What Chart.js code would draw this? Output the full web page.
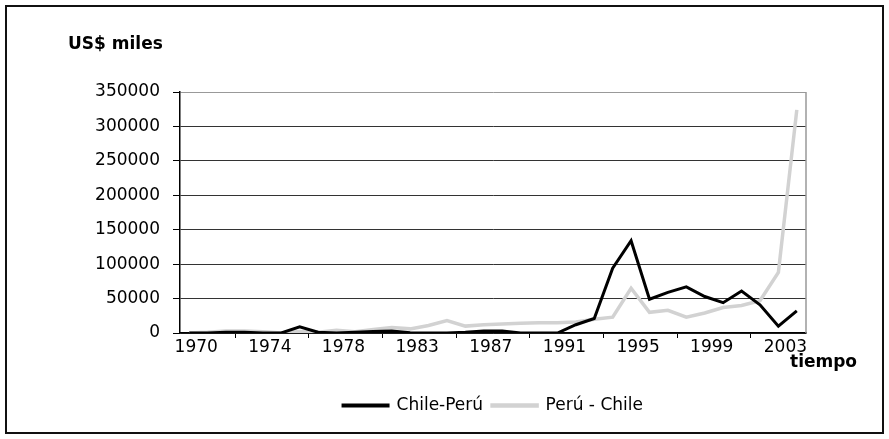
<!DOCTYPE html>
<html>
<head>
<meta charset="utf-8">
<script src="https://cdn.jsdelivr.net/npm/chart.js@4"></script>
<style>
  body { margin: 0; background: #fff; }
  #wrap { position: relative; width: 889px; height: 439px; }
  #myChart { position: absolute; left: 0; top: 0; }
  #frame { position: absolute; left: 5px; top: 5px; width: 875px; height: 425px; border: 2px solid #111; pointer-events: none; }
  .lbl { position: absolute; font-family: "DejaVu Sans"; font-weight: bold; font-size: 17px; color: #000; white-space: nowrap; }
</style>
</head>
<body>
<div id="wrap">
  <canvas id="myChart" width="889" height="439"></canvas>
  <div id="frame"></div>
  <div class="lbl" style="left:68px;top:33px">US$ miles</div>
  <div class="lbl" style="left:790px;top:351px">tiempo</div>
</div>
<script>
// categories as they appear on the axis (1982 is not in the series)
const years = [1970, 1971, 1972, 1973, 1974, 1975, 1976, 1977, 1978, 1979, 1980, 1981,
               1983, 1984, 1985, 1986, 1987, 1988, 1989, 1990, 1991, 1992, 1993, 1994,
               1995, 1996, 1997, 1998, 1999, 2000, 2001, 2002, 2003, 2004];

// US$ miles
const chilePeru = [0, 0, 1000, 1000, 0, 0, 9000, 1000, 0, 1000, 2000, 3000,
                   500, 0, 0, 1000, 3000, 3000, 0, 0, 0, 12000, 21000, 94000,
                   134000, 49000, 59000, 67000, 53000, 44000, 61000, 41000, 10000, 32000];
const peruChile = [0, 1000, 3000, 3000, 2000, 0, 2000, 1000, 4000, 2000, 5000, 8000,
                   6000, 11000, 18000, 10000, 12000, 13000, 14000, 15000, 15000, 16000, 20000, 23000,
                   65000, 30000, 33000, 23000, 29000, 37000, 40000, 47000, 88000, 324000];

const yMax = 350000;
const yStep = 50000;

const font = { family: 'DejaVu Sans', size: 17 };

// grey right edge of the plot area
const plotEdge = {
    id: 'plotEdge',
    beforeDatasetsDraw(chart) {
        const a = chart.chartArea;
        const c = chart.ctx;
        c.save();
        c.strokeStyle = '#999';
        c.lineWidth = 1.5;
        c.beginPath();
        c.moveTo(a.right, a.top);
        c.lineTo(a.right, a.bottom);
        c.stroke();
        c.restore();
    }
};

const ctx = document.getElementById('myChart').getContext('2d');
const myChart = new Chart(ctx, {
    type: 'line',
    data: {
        labels: years,
        datasets: [{
            label: 'Chile-Perú',
            data: chilePeru,
            borderColor: '#000',
            backgroundColor: '#000',
            borderWidth: 3,
            pointRadius: 0,
            tension: 0
        }, {
            label: 'Perú - Chile',
            data: peruChile,
            borderColor: '#d2d2d2',
            backgroundColor: '#d2d2d2',
            borderWidth: 3.5,
            pointRadius: 0,
            tension: 0
        }]
    },
    options: {
        responsive: false,
        animation: false,
        layout: { padding: { left: 0, top: 92, right: 83, bottom: 15 } },
        plugins: {
            legend: {
                position: 'bottom',
                fullSize: false,
                labels: { boxWidth: 45, boxHeight: 1, color: '#000', font: font, padding: 9 }
            },
            tooltip: { enabled: false }
        },
        scales: {
            x: {
                type: 'category',
                offset: true,
                grid: {
                    offset: true,
                    drawOnChartArea: false,
                    tickLength: 5,
                    color: c => (c.index % 4 === 3 ? '#000' : 'rgba(0,0,0,0)')
                },
                border: { color: '#000', width: 1.5 },
                ticks: {
                    autoSkip: false,
                    maxRotation: 0,
                    labelOffset: 7,
                    padding: -1,
                    color: '#000',
                    font: font,
                    callback: function (val, i) { return i % 4 === 0 ? this.getLabelForValue(val) : ''; }
                },
                afterFit: s => { s.height = 55; }
            },
            y: {
                min: 0,
                max: yMax,
                ticks: { stepSize: yStep, color: '#000', font: font, padding: 13, callback: v => String(v) },
                grid: {
                    color: c => (c.tick && c.tick.value === yMax ? '#999' : '#333'),
                    tickColor: '#000',
                    tickLength: 7
                },
                border: { color: '#000', width: 1.5 },
                afterFit: s => { s.width = 180; }
            }
        }
    },
    plugins: [plotEdge]
});
</script>
</body>
</html>
